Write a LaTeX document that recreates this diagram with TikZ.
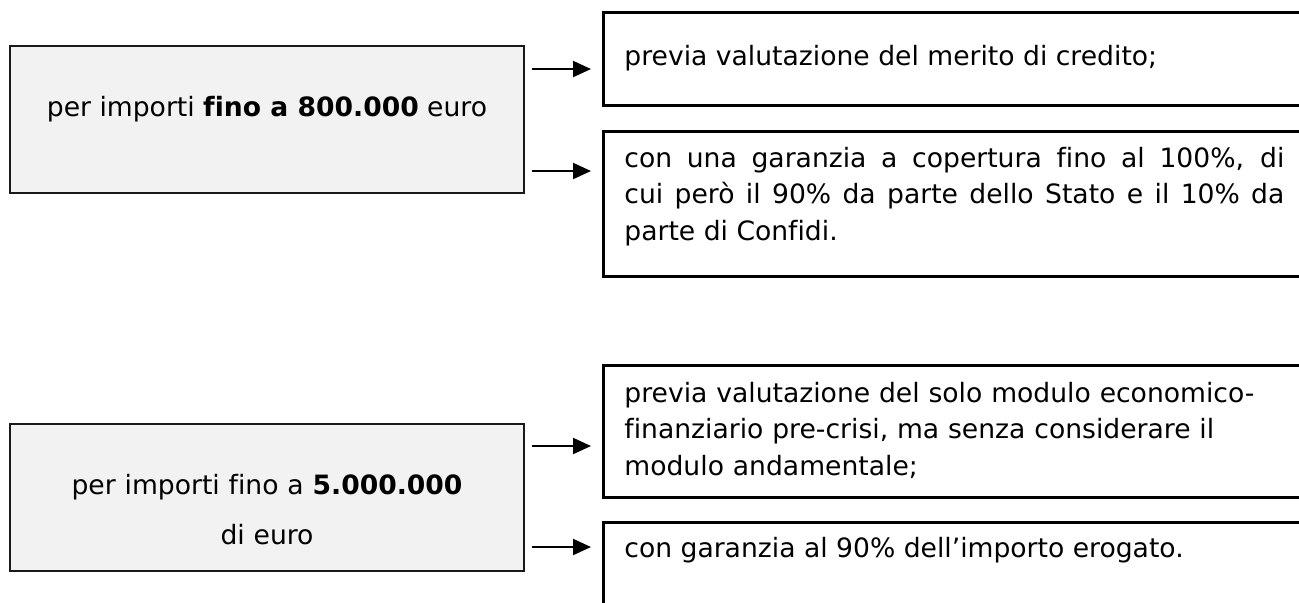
\documentclass[tikz,border=0pt]{standalone}
\usepackage{fontspec}
\setmainfont{DejaVu Sans}[Ligatures=NoCommon]
\usetikzlibrary{arrows.meta}

\definecolor{boxgray}{HTML}{F2F2F2}
\tikzset{
  impbox/.style={draw=black!90, line width=1.3pt, fill=boxgray, minimum width=257pt,
    minimum height=73.5pt, anchor=north west, inner sep=0pt, outer sep=0pt},
  valbox/.style={draw=black, line width=1.5pt, minimum width=360pt,
    anchor=north west, inner sep=0pt, outer sep=0pt},
  txt/.style={inner sep=0pt, font=\fontsize{13.3}{18.25}\selectfont},
  arr/.style={line width=1pt, -{Triangle[length=9pt,width=8pt]}}
}

\begin{document}
\begin{tikzpicture}[x=0.5pt, y=-0.5pt]
\useasboundingbox (0,0) rectangle (1299,602);
\clip (0,0) rectangle (1299,602);
% boxes
\node[impbox] (imp1) at (10,46) {};
\node[impbox] (imp2) at (10,424) {};
\node[valbox, minimum height=46.5pt] (val1) at (603,12) {};
\node[valbox, minimum height=72.5pt] (val2) at (603,131) {};
\node[valbox, minimum height=66pt] (val3) at (603,365) {};
\node[valbox, minimum height=60pt] (val4) at (603,522) {};
% texts
\node[txt, anchor=base] (imp1txt) at ([shift={(0,70)}]imp1.north)
  {per importi \textbf{fino a 800.000} euro};
\node[txt, anchor=base, text width=257pt, align=center,
  font=\fontsize{13.3}{25}\selectfont] (imp2txt)
  at ([shift={(0,70)}]imp2.north) {per importi fino a \textbf{5.000.000}\\di euro};
\node[txt, anchor=base west] (val1txt) at ([shift={(21,53)}]val1.north west)
  {previa valutazione del merito di credito;};
\node[txt, anchor=base west, text width=330pt, align=justify] (val2txt)
  at ([shift={(21,36)}]val2.north west)
  {con una garanzia a copertura fino al 100\%, di\linebreak
   cui però il 90\% da parte dello Stato e il 10\% da\linebreak
   parte di Confidi.};
\node[txt, anchor=base west, text width=330pt, align=left] (val3txt)
  at ([shift={(21,37)}]val3.north west)
  {previa valutazione del solo modulo economico-\\
   finanziario pre-crisi, ma senza considerare il\\
   modulo andamentale;};
\node[txt, anchor=base west] (val4txt) at ([shift={(21,35)}]val4.north west)
  {con garanzia al 90\% dell’importo erogato.};
% arrows
\draw[arr] ([shift={(8,23)}]imp1.north east) -- ([shift={(-12,57)}]val1.north west);
\draw[arr] ([shift={(8,125)}]imp1.north east) -- ([shift={(-12,40)}]val2.north west);
\draw[arr] ([shift={(8,22)}]imp2.north east) -- ([shift={(-12,81)}]val3.north west);
\draw[arr] ([shift={(8,123)}]imp2.north east) -- ([shift={(-12,25)}]val4.north west);
\end{tikzpicture}
\end{document}
